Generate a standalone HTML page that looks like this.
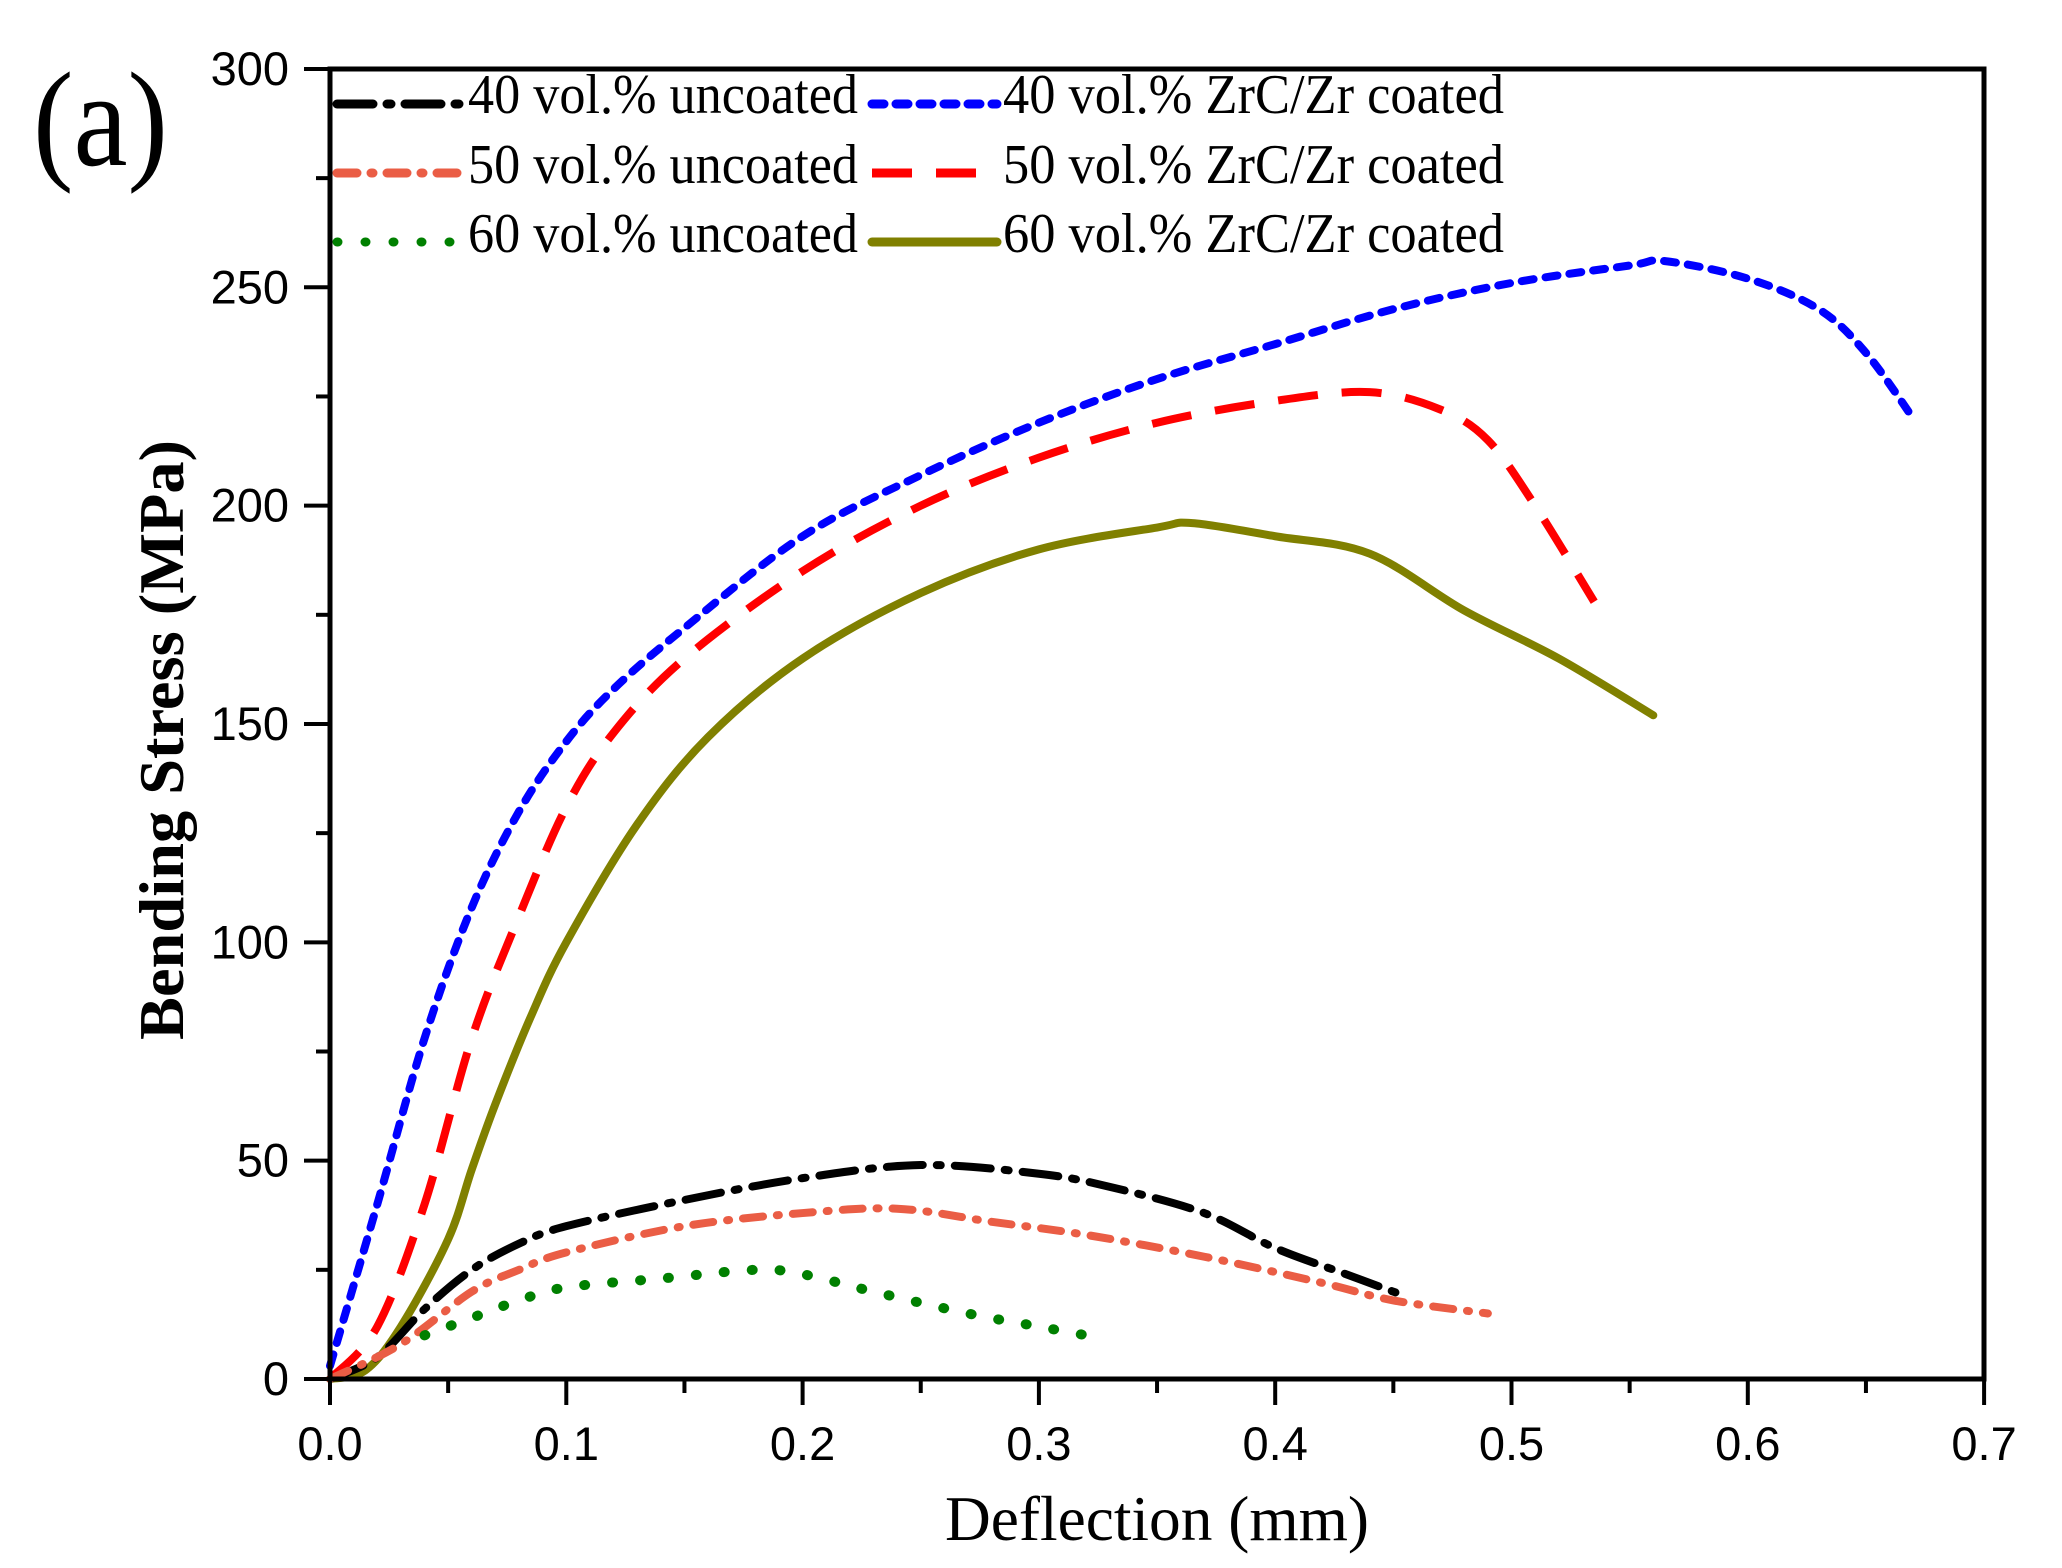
<!DOCTYPE html>
<html><head><meta charset="utf-8"><style>
html,body{margin:0;padding:0;background:#fff;}
svg{display:block;}
</style></head><body>
<svg id="s" width="2062" height="1568" viewBox="0 0 2062 1568" xmlns="http://www.w3.org/2000/svg">
<rect width="2062" height="1568" fill="#fff"/>
<g id="curves"></g>
<rect x="330" y="69" width="1654" height="1310" fill="none" stroke="#000" stroke-width="5"/>
<g id="ticks" stroke="#000" stroke-width="4"></g>
<g id="labels" font-family="Liberation Sans, Arial, sans-serif" font-size="47" fill="#000"></g>
<g font-family="Liberation Serif, Times New Roman, serif" fill="#000">
<text x="33" y="165" font-size="135" textLength="135" lengthAdjust="spacingAndGlyphs">(a)</text>
<text transform="translate(183,740) rotate(-90)" text-anchor="middle" font-size="64" font-weight="bold" textLength="600" lengthAdjust="spacingAndGlyphs">Bending Stress (MPa)</text>
<text x="945" y="1540" font-size="64" textLength="424" lengthAdjust="spacingAndGlyphs">Deflection (mm)</text>
<g font-size="56">
<text x="468" y="113" textLength="390" lengthAdjust="spacingAndGlyphs">40 vol.% uncoated</text>
<text x="468" y="183" textLength="390" lengthAdjust="spacingAndGlyphs">50 vol.% uncoated</text>
<text x="468" y="252" textLength="390" lengthAdjust="spacingAndGlyphs">60 vol.% uncoated</text>
<text x="1003" y="113" textLength="501" lengthAdjust="spacingAndGlyphs">40 vol.% ZrC/Zr coated</text>
<text x="1003" y="183" textLength="501" lengthAdjust="spacingAndGlyphs">50 vol.% ZrC/Zr coated</text>
<text x="1003" y="252" textLength="501" lengthAdjust="spacingAndGlyphs">60 vol.% ZrC/Zr coated</text>
</g>
</g>
<g id="leg" stroke-width="9" fill="none"></g>
</svg>
<script>
var NS="http://www.w3.org/2000/svg";
function X(x){return 330+x/0.1*236.3;}
function Y(y){return 1379-y/50*218.33;}
function el(p,t,a){var e=document.createElementNS(NS,t);for(var k in a)e.setAttribute(k,a[k]);document.getElementById(p).appendChild(e);return e;}
var series=[
 {c:"#0000ff",d:"12 12",cap:"round",p:[[0,3],[0.02,40],[0.04,78],[0.06,108],[0.08,130],[0.1,146],[0.12,158],[0.15,172],[0.2,193],[0.25,207],[0.3,219],[0.35,229],[0.4,237],[0.45,245],[0.5,251],[0.55,255],[0.565,256],[0.6,252],[0.63,245],[0.65,235],[0.67,220]]},
 {c:"#ff0000",d:"40 24",cap:"butt",p:[[0,0],[0.02,12],[0.04,40],[0.06,78],[0.08,106],[0.1,131],[0.12,148],[0.15,165],[0.2,185],[0.25,200],[0.3,211],[0.35,219],[0.4,224],[0.44,226],[0.47,222],[0.49,215],[0.51,200],[0.535,178]]},
 {c:"#808000",d:"",cap:"round",p:[[0,0],[0.015,2],[0.03,12],[0.05,32],[0.06,48],[0.07,63],[0.085,83],[0.1,100],[0.13,127],[0.16,147],[0.2,165],[0.25,180],[0.3,190],[0.35,195],[0.365,196],[0.4,193],[0.44,189],[0.48,176],[0.52,165],[0.56,152]]},
 {c:"#000000",d:"36 14 4 14",cap:"round",p:[[0,0],[0.02,5],[0.04,16],[0.06,25],[0.08,31],[0.1,35],[0.15,41],[0.2,46],[0.25,49],[0.3,47],[0.33,44],[0.37,38],[0.4,30],[0.43,24],[0.455,19]]},
 {c:"#ea5d45",d:"20 14 2 14",cap:"round",p:[[0,0],[0.03,8],[0.06,20],[0.08,25],[0.1,29],[0.15,35],[0.2,38],[0.24,39],[0.28,36],[0.32,33],[0.37,28],[0.42,22],[0.45,18],[0.49,15]]},
 {c:"#008000",d:"1 27",cap:"round",p:[[0.04,10],[0.06,14],[0.08,18],[0.1,21],[0.14,23],[0.18,25],[0.2,24],[0.23,20],[0.27,15],[0.3,12],[0.32,10]]}
];
series.forEach(function(s){
 var P=s.p.map(function(q){return [X(q[0]),Y(q[1])];});
 var d="M"+P[0][0]+","+P[0][1];
 for(var i=0;i<P.length-1;i++){
  var p0=P[Math.max(0,i-1)],p1=P[i],p2=P[i+1],p3=P[Math.min(P.length-1,i+2)];
  var c1=[p1[0]+(p2[0]-p0[0])/6,p1[1]+(p2[1]-p0[1])/6],c2=[p2[0]-(p3[0]-p1[0])/6,p2[1]-(p3[1]-p1[1])/6];
  d+=" C"+c1[0]+","+c1[1]+" "+c2[0]+","+c2[1]+" "+p2[0]+","+p2[1];
 }
 var a={d:d,fill:"none",stroke:s.c,"stroke-width":s.c=="#008000"?10:8,"stroke-linecap":s.cap,"stroke-linejoin":"round"};
 if(s.d)a["stroke-dasharray"]=s.d;
 el("curves","path",a);
});
for(var i=0;i<=14;i++){var x=330+i*118.15;el("ticks","line",{x1:x,y1:1379,x2:x,y2:i%2?1393:1405});}
for(var j=0;j<=12;j++){var y=1379-j*109.17;el("ticks","line",{x1:330,y1:y,x2:j%2?316:304,y2:y});}
for(var i=0;i<=7;i++){var t=el("labels","text",{x:330+i*236.3,y:1460,"text-anchor":"middle"});t.textContent=(i/10).toFixed(1);}
for(var j=0;j<=6;j++){var t=el("labels","text",{x:289,y:1379-j*218.33+16,"text-anchor":"end"});t.textContent=String(j*50);}
var L=[[337,462,104,"#000","36 14 4 14"],[337,462,173,"#ea5d45","20 14 2 14"],[337,462,242,"#008000","1 27"],[872,997,104,"#0000ff","12 12"],[872,997,173,"#ff0000","40 24"],[872,997,242,"#808000",""]];
L.forEach(function(l){var a={x1:l[0],y1:l[2],x2:l[1],y2:l[2],stroke:l[3],"stroke-linecap":l[4]=="40 24"?"butt":"round"};if(l[4])a["stroke-dasharray"]=l[4];el("leg","line",a);});
</script>
</body></html>
